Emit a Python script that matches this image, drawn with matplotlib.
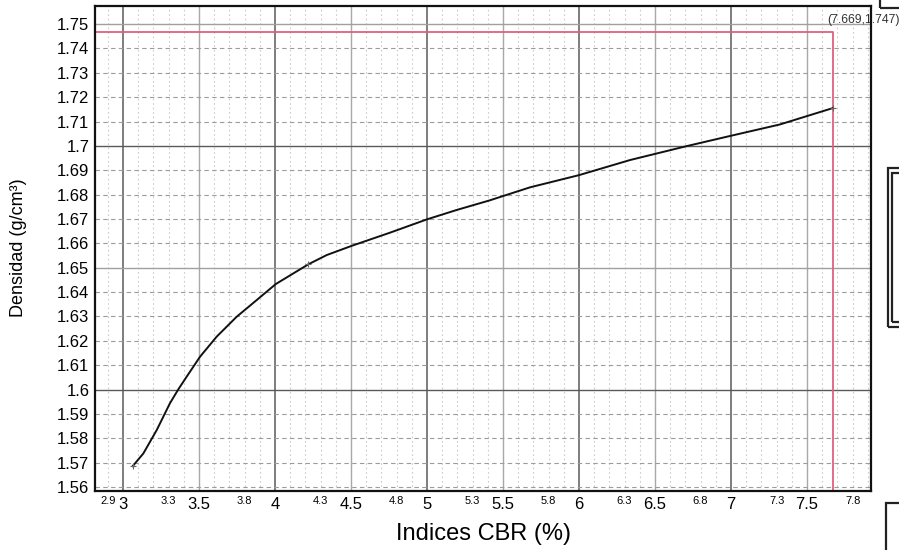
import numpy as np
import matplotlib
matplotlib.use("Agg")
import matplotlib.pyplot as plt
from matplotlib.patches import Rectangle

plt.rcParams['font.family'] = ['Liberation Sans', 'DejaVu Sans']

# ---- data ----
cbr = [3.064, 3.134, 3.222, 3.309, 3.364, 3.419, 3.507, 3.616, 3.748, 3.879,
       4.005, 4.219, 4.340, 4.505, 4.757, 5.002, 5.195, 5.410, 5.678, 6.000,
       6.336, 6.708, 6.989, 7.322, 7.669]
densidad = [1.5686, 1.5738, 1.5834, 1.5944, 1.6001, 1.6053, 1.6135, 1.6217, 1.6299, 1.6367,
            1.6433, 1.6514, 1.6552, 1.6590, 1.6644, 1.6699, 1.6737, 1.6776, 1.6830, 1.6880,
            1.6942, 1.6999, 1.7040, 1.7088, 1.7155]
marker_x = [3.064, 4.219, 7.669]
marker_y = [1.5686, 1.6514, 1.7155]

target_x = 7.669
target_y = 1.7466
annot_text = "(7.669,1.747)"

major_xticks = [3, 3.5, 4, 4.5, 5, 5.5, 6, 6.5, 7, 7.5]
major_xlabels = ["3", "3.5", "4", "4.5", "5", "5.5", "6", "6.5", "7", "7.5"]
minor_xticks = [2.9, 3.3, 3.8, 4.3, 4.8, 5.3, 5.8, 6.3, 6.8, 7.3, 7.8]
minor_xlabels = ["2.9", "3.3", "3.8", "4.3", "4.8", "5.3", "5.8", "6.3", "6.8", "7.3", "7.8"]
yticks = [1.56, 1.57, 1.58, 1.59, 1.60, 1.61, 1.62, 1.63, 1.64, 1.65,
          1.66, 1.67, 1.68, 1.69, 1.70, 1.71, 1.72, 1.73, 1.74, 1.75]
ylabels = ["1.56", "1.57", "1.58", "1.59", "1.6", "1.61", "1.62", "1.63", "1.64", "1.65",
           "1.66", "1.67", "1.68", "1.69", "1.7", "1.71", "1.72", "1.73", "1.74", "1.75"]

xlabel = "Indices CBR (%)"
ylabel = "Densidad (g/cm³)"

# ---- figure ----
W, H = 899, 550
fig = plt.figure(figsize=(W / 100, H / 100), dpi=100)
ax = fig.add_axes([95 / W, 1 - 491 / H, (871 - 95) / W, (491 - 6) / H])
ax.set_xlim(2.816, 7.921)
ax.set_ylim(1.5584, 1.7574)

# grid lines
for xv in np.arange(2.9, 7.95, 0.1):
    xv = round(xv, 2)
    if abs(xv - round(xv)) < 1e-6:
        ax.axvline(xv, color='#5a5a5a', lw=1.1, zorder=1)
    elif abs(xv * 2 - round(xv * 2)) < 1e-6:
        ax.axvline(xv, color='#a8a8a8', lw=1.0, zorder=1)
    else:
        ax.axvline(xv, color='#cccccc', lw=0.8, ls=(0, (1.5, 2.5)), zorder=1)

for yv in np.arange(1.56, 1.7551, 0.01):
    yv = round(yv, 3)
    if abs(yv * 10 - round(yv * 10)) < 1e-6:
        ax.axhline(yv, color='#5a5a5a', lw=1.0, zorder=1)
    elif abs(yv * 20 - round(yv * 20)) < 1e-6:
        ax.axhline(yv, color='#a0a0a0', lw=1.0, zorder=1)
    else:
        ax.axhline(yv, color='#9c9c9c', lw=0.8, ls=(0, (4, 3)), zorder=1)

# red target lines
ax.plot([ax.get_xlim()[0], target_x, target_x], [target_y, target_y, ax.get_ylim()[0]],
        color='#e2607e', lw=1.3, zorder=3, clip_on=False)

# curve
ax.plot(cbr, densidad, color='#111111', lw=1.4, zorder=4, solid_joinstyle='round')
ax.plot(marker_x, marker_y, ls='none', marker='+', ms=4, mew=0.8, color='#666666', zorder=5)

# annotation
ax.text(7.636, 1.7516, annot_text, fontsize=8.8, color='#333333', ha='left', va='center',
        clip_on=False, zorder=6)

# ticks
ax.set_xticks(major_xticks)
ax.set_xticklabels(major_xlabels, fontsize=12)
ax.set_xticks(minor_xticks, minor=True)
ax.set_xticklabels(minor_xlabels, minor=True, fontsize=8)
ax.tick_params(axis='x', which='major', length=0, pad=4.5)
ax.tick_params(axis='x', which='minor', length=0, pad=3.5)
ax.set_yticks(yticks)
ax.set_yticklabels(ylabels, fontsize=12)
ax.tick_params(axis='y', length=0, pad=4)

for s in ax.spines.values():
    s.set_linewidth(1.6)
    s.set_color('#111111')
    s.set_zorder(7)

fig.text(483 / W, 1 - 534 / H, xlabel, fontsize=17, ha='center', va='center')
fig.text(19 / W, 1 - 248 / H, ylabel, fontsize=13, rotation=90, ha='center', va='center')

# scanned border fragments on right side
for (x0, y0, x1, y1) in [(880, -5, 905, 8), (888, 168, 905, 327), (892, 173, 905, 322), (886, 503, 905, 560)]:
    fig.patches.append(Rectangle((x0 / W, 1 - y1 / H), (x1 - x0) / W, (y1 - y0) / H,
                                 transform=fig.transFigure, fill=False, ec='#222222', lw=1.6))

fig.savefig("out.png", dpi=100)
